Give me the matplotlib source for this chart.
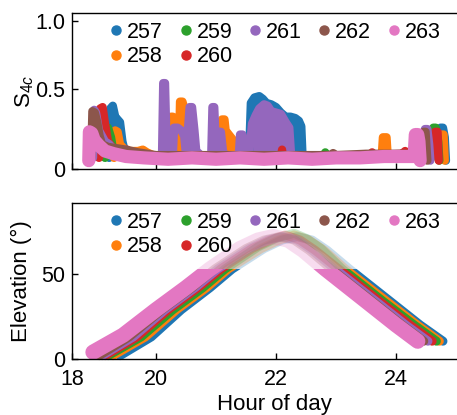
import matplotlib
matplotlib.use('Agg')
import matplotlib.pyplot as plt
from matplotlib.lines import Line2D
from matplotlib.patches import Rectangle

plt.rcParams['font.family'] = 'Liberation Sans'
plt.rcParams['mathtext.fontset'] = 'custom'
plt.rcParams['mathtext.rm'] = 'Liberation Sans'
plt.rcParams['mathtext.it'] = 'Liberation Sans:italic'

prns = ['257', '258', '259', '260', '261', '262', '263']
colors = ['#1f77b4', '#ff7f0e', '#2ca02c', '#d62728', '#9467bd', '#8c564b', '#e377c2']

## S4c per satellite (hour, value)
s4_t_257 = [19.22, 19.24, 19.28, 19.32, 19.36, 19.40, 19.44, 19.48, 19.55, 20.0, 20.6, 21.2, 21.55, 21.58, 21.64,
            21.72, 21.78, 21.84, 21.92, 22.0, 22.08, 22.16, 22.24, 22.32, 22.38, 22.42, 22.44, 23.0, 23.6, 24.2,
            24.72, 24.74, 24.78, 24.81, 24.83]
s4_v_257 = [0.00, 0.36, 0.38, 0.30, 0.28, 0.26, 0.12, 0.05, 0.02, 0.01, 0.01, 0.01, 0.02, 0.40, 0.44,
            0.45, 0.43, 0.40, 0.39, 0.37, 0.33, 0.30, 0.30, 0.29, 0.27, 0.23, 0.02, 0.01, 0.01, 0.01,
            0.02, 0.22, 0.22, 0.15, -0.02]
s4_t_258 = [19.30, 19.32, 19.36, 19.40, 19.5, 19.7, 19.78, 19.85, 20.0, 20.24, 20.25, 20.28, 20.30, 20.38, 20.40,
            20.44, 20.48, 20.5, 20.7, 21.08, 21.1, 21.14, 21.16, 21.5, 22.5, 23.5, 23.76, 23.78, 23.84, 23.86,
            24.2, 24.73, 24.75, 24.79, 24.81]
s4_v_258 = [0.0, 0.20, 0.19, 0.10, 0.05, 0.05, 0.06, 0.04, 0.01, 0.01, 0.30, 0.30, 0.01, 0.01, 0.41,
            0.41, 0.35, 0.02, 0.01, 0.01, 0.28, 0.28, 0.20, 0.01, 0.01, 0.01, 0.01, 0.15, 0.15, 0.01,
            0.01, 0.01, 0.17, 0.17, -0.02]
s4_t_259 = [19.15, 19.2, 19.25, 19.3, 19.5, 20.5, 21.5, 22.5, 22.78, 22.82, 22.86, 23.2, 24.0, 24.6, 24.62,
            24.66, 24.7, 24.72]
s4_v_259 = [0.0, 0.22, 0.15, 0.02, 0.01, 0.01, 0.01, 0.01, 0.01, 0.04, 0.01, 0.01, 0.01, 0.01, 0.22,
            0.22, 0.12, -0.02]
s4_t_260 = [19.05, 19.07, 19.11, 19.15, 19.2, 19.3, 19.5, 19.52, 19.6, 20.0, 20.26, 20.28, 20.32, 21.0, 22.08,
            22.1, 22.12, 22.5, 23.0, 23.55, 23.6, 23.65, 24.1, 24.15, 24.2, 24.63, 24.65, 24.69, 24.71]
s4_v_260 = [0.0, 0.36, 0.37, 0.25, 0.12, 0.06, 0.04, 0.06, 0.02, 0.01, 0.01, 0.045, 0.01, 0.01, 0.01,
            0.06, 0.01, 0.01, 0.02, 0.02, 0.04, 0.02, 0.03, 0.05, 0.02, 0.02, 0.19, 0.19, -0.02]
s4_t_261 = [18.95, 18.97, 19.0, 19.05, 19.15, 19.22, 19.3, 19.5, 19.8, 20.1, 20.12, 20.15, 20.18, 20.28, 20.3,
            20.36, 20.42, 20.47, 20.5, 20.56, 20.6, 20.64, 20.67, 20.75, 20.92, 20.94, 20.97, 21.0, 21.05, 21.08,
            21.12, 21.2, 21.38, 21.40, 21.44, 21.47, 21.55, 21.6, 21.66, 21.72, 21.8, 21.86, 21.92, 22.0, 22.08,
            22.16, 22.22, 22.25, 22.5, 23.0, 23.5, 24.0, 24.46, 24.48, 24.52, 24.55, 24.57]
s4_v_261 = [0.0, 0.35, 0.33, 0.20, 0.12, 0.10, 0.06, 0.03, 0.02, 0.02, 0.545, 0.545, 0.02, 0.02, 0.22,
            0.22, 0.20, 0.16, 0.02, 0.37, 0.37, 0.20, 0.05, 0.02, 0.02, 0.37, 0.37, 0.05, 0.19, 0.19,
            0.03, 0.02, 0.02, 0.17, 0.17, 0.03, 0.02, 0.25, 0.31, 0.36, 0.39, 0.38, 0.34, 0.33, 0.32,
            0.26, 0.22, 0.02, 0.02, 0.02, 0.02, 0.02, 0.02, 0.21, 0.21, 0.10, -0.02]
s4_t_262 = [18.92, 18.94, 18.98, 19.02, 19.06, 19.1, 19.2, 19.35, 19.5, 19.7, 20.0, 21.0, 22.0, 22.9, 22.95,
            23.0, 23.5, 24.0, 24.44, 24.46, 24.49, 24.52]
s4_v_262 = [0.0, 0.34, 0.33, 0.26, 0.16, 0.10, 0.08, 0.07, 0.06, 0.04, 0.02, 0.02, 0.02, 0.02, 0.035,
            0.02, 0.03, 0.03, 0.03, 0.19, 0.19, -0.02]
s4_t_263 = [18.88, 18.89, 18.93, 18.97, 19.05, 19.15, 19.3, 19.5, 19.8, 20.2, 20.6, 21.0, 21.4, 21.8, 22.2,
            22.6, 23.0, 23.4, 23.8, 24.1, 24.3, 24.32, 24.36, 24.38, 24.40]
s4_v_263 = [-0.02, 0.19, 0.18, 0.13, 0.09, 0.05, 0.03, 0.01, 0.0, -0.01, 0.0, -0.01, 0.0, -0.01, 0.0,
            -0.01, 0.0, 0.0, 0.01, 0.01, 0.01, 0.17, 0.17, 0.12, -0.02]

## elevation per satellite (hour, degrees)
el_t_257 = [19.4, 19.92, 20.42, 20.9, 21.27, 21.8, 22.1, 22.35, 22.6, 22.85, 23.22, 23.9, 24.4, 24.78]
el_v_257 = [2, 13, 29, 42, 53, 65, 70, 72, 70, 64, 53, 34, 20, 10.5]
el_t_258 = [19.28, 19.82, 20.34, 20.84, 21.2, 21.75, 22.05, 22.3, 22.55, 22.8, 23.15, 23.84, 24.35, 24.72]
el_v_258 = [2, 13, 29, 42, 53, 65, 70, 73, 70, 64, 53, 34, 20, 10.5]
el_t_259 = [19.2, 19.75, 20.28, 20.78, 21.15, 21.7, 22.0, 22.3, 22.5, 22.75, 23.1, 23.78, 24.3, 24.67]
el_v_259 = [2, 13, 29, 42, 53, 66, 71, 74, 71, 65, 53, 34, 20, 10.5]
el_t_260 = [19.15, 19.68, 20.2, 20.7, 21.08, 21.6, 21.9, 22.15, 22.4, 22.65, 23.04, 23.72, 24.23, 24.6]
el_v_260 = [2, 13, 29, 42, 53, 65, 70, 73, 70, 64, 53, 34, 20, 10.5]
el_t_261 = [19.1, 19.62, 20.15, 20.65, 21.03, 21.55, 21.85, 22.1, 22.35, 22.6, 22.98, 23.66, 24.16, 24.53]
el_v_261 = [2, 13, 29, 42, 53, 65, 70, 72, 70, 64, 53, 34, 20, 10.5]
el_t_262 = [19.05, 19.55, 20.1, 20.6, 20.98, 21.5, 21.8, 22.05, 22.3, 22.55, 22.92, 23.6, 24.1, 24.46]
el_v_262 = [2, 13, 29, 42, 53, 65, 70, 72, 70, 64, 53, 34, 20, 10.5]
el_t_263 = [18.95, 19.45, 20.0, 20.5, 20.9, 21.4, 21.7, 21.95, 22.2, 22.45, 22.82, 23.5, 24.0, 24.36]
el_v_263 = [4, 14, 29, 42, 53, 65, 70, 72, 70, 64, 53, 34, 20, 10.5]

elev_cut = 53

s4_t = [s4_t_257, s4_t_258, s4_t_259, s4_t_260, s4_t_261, s4_t_262, s4_t_263]
s4_v = [s4_v_257, s4_v_258, s4_v_259, s4_v_260, s4_v_261, s4_v_262, s4_v_263]
el_t = [el_t_257, el_t_258, el_t_259, el_t_260, el_t_261, el_t_262, el_t_263]
el_v = [el_v_257, el_v_258, el_v_259, el_v_260, el_v_261, el_v_262, el_v_263]

fig = plt.figure(figsize=(4.57, 4.15), dpi=100)
ax1 = fig.add_axes([0.1575, 0.5928, 0.884, 0.3759])
ax2 = fig.add_axes([0.1575, 0.1349, 0.884, 0.3759])

for i, prn in enumerate(prns):
    lw = 9.5 if prn == '263' else 6.0
    ax1.fill_between(s4_t[i], 0, s4_v[i], color=colors[i], lw=0)
    ax1.plot(s4_t[i], s4_v[i], color=colors[i], lw=lw,
             solid_capstyle='round', solid_joinstyle='round')

for i, prn in enumerate(prns):
    lw = 11 if prn == '263' else 6.5
    low = Rectangle((17, -20), 10, 20 + elev_cut, transform=ax2.transData)
    high = Rectangle((17, elev_cut), 10, 60, transform=ax2.transData)
    l1, = ax2.plot(el_t[i], el_v[i], color=colors[i], lw=lw,
                   solid_capstyle='round', solid_joinstyle='round')
    l1.set_clip_path(low)
    l2, = ax2.plot(el_t[i], el_v[i], color=colors[i], lw=lw, alpha=0.25,
                   solid_capstyle='round', solid_joinstyle='round')
    l2.set_clip_path(high)

handles = [Line2D([], [], ls='', marker='o', markersize=6.5, color=c) for c in colors]

for ax in (ax1, ax2):
    ax.set_xlim(18.6, 25.33)
    ax.set_xticks([18.6, 20, 22, 24])
    ax.tick_params(direction='in', length=4, width=1, labelsize=15.5)
    ax.tick_params(axis='y', pad=5)
    ax.tick_params(axis='x', pad=7)
    for sp in ax.spines.values():
        sp.set_linewidth(1)
    ax.legend(handles, prns, ncol=5, loc='upper left', bbox_to_anchor=(0.094, 0.945),
              frameon=False, fontsize=15.5, handlelength=0.6, handletextpad=0.2,
              columnspacing=0.75, labelspacing=0.18, borderpad=0, borderaxespad=0)

ax1.set_ylim(-0.081, 1.056)
ax1.set_yticks([-0.081, 0.5, 1.0])
ax1.set_yticklabels(['0', '0.5', '1.0'])
ax1.set_xticklabels([])
ax1.set_ylabel(r'S$_{4c}$', fontsize=16)
ax1.yaxis.set_label_coords(-0.09, 0.5)

ax2.set_ylim(0, 91.8)
ax2.set_yticks([0, 50])
ax2.set_xticklabels(['18', '20', '22', '24'])
ax2.set_ylabel('Elevation (°)', fontsize=16)
ax2.yaxis.set_label_coords(-0.1, 0.5)
ax2.set_xlabel('Hour of day', fontsize=16, labelpad=3)

fig.savefig('out.png', dpi=100)
